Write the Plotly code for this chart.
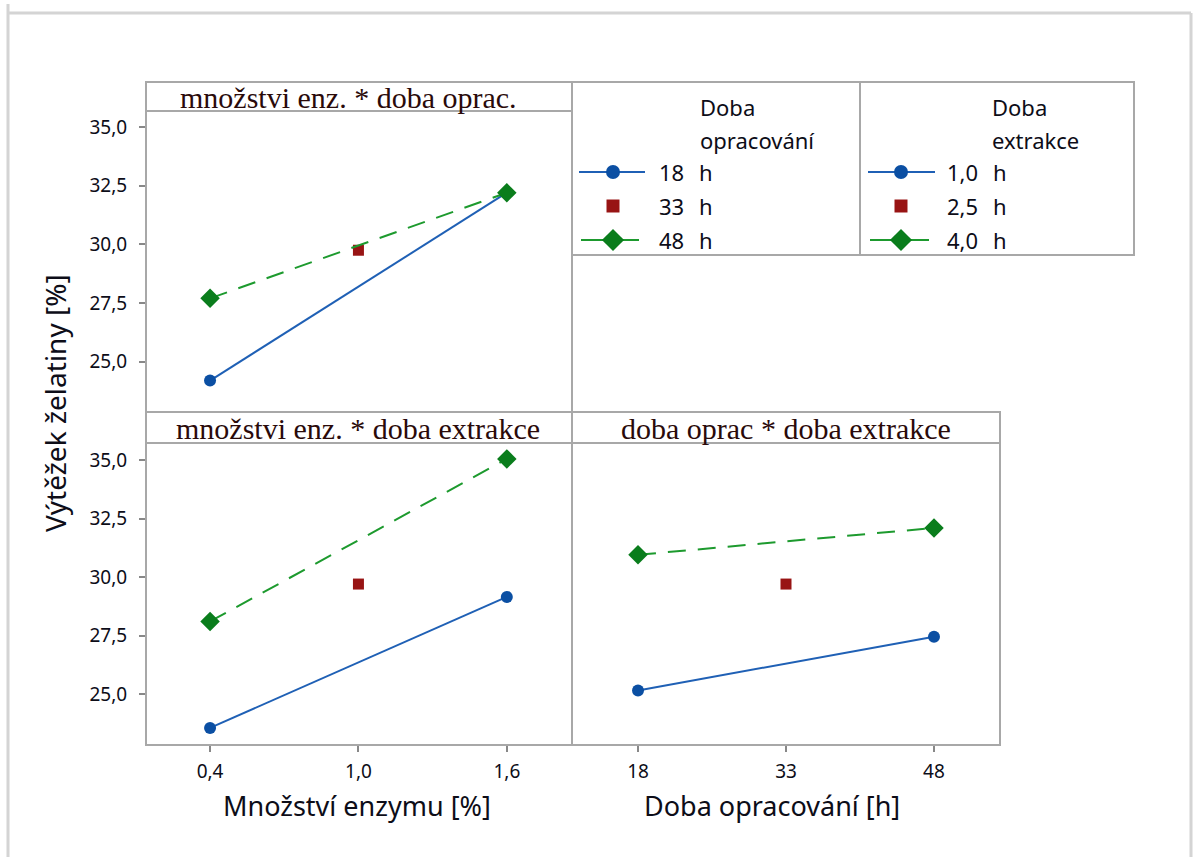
import plotly.graph_objects as go

W, H = 1195, 857

# ---------------- data ----------------
enzyme_levels = [0.4, 1.0, 1.6]          # Množství enzymu [%]
time_levels = [18, 33, 48]               # Doba opracování [h]
y_ticks = [25.0, 27.5, 30.0, 32.5, 35.0]

# panel 1: množství enz. * doba oprac.
p1_18h = [24.2, 32.2]     # at 0.4, 1.6
p1_33h = [29.75]          # at 1.0
p1_48h = [27.7, 32.2]     # at 0.4, 1.6
# panel 2: množství enz. * doba extrakce
p2_10h = [23.55, 29.15]
p2_25h = [29.7]
p2_40h = [28.1, 35.05]
# panel 3: doba oprac * doba extrakce
p3_10h = [25.15, 27.45]   # at 18, 48
p3_25h = [29.7]           # at 33
p3_40h = [30.95, 32.1]    # at 18, 48

legend1_title = ["Doba", "opracování"]
legend1_labels = ["18", "33", "48"]
legend2_title = ["Doba", "extrakce"]
legend2_labels = ["1,0", "2,5", "4,0"]
panel_titles = ["množstvi enz. * doba oprac.",
                "množstvi enz. * doba extrakce",
                "doba oprac * doba extrakce"]

# ---------------- style ----------------
BLUE_L = "#1f60b5"; BLUE_M = "#0b4fa3"
RED_M = "#981414"
GREEN_L = "#1d9a2e"; GREEN_M = "#0a7d1c"
BORDER = "#a8a8a8"
SANS = "Noto Sans"
SERIF = "Liberation Serif"
TXT = "#0d0d18"
DASH = "18px,12px"


def px(x):
    return x / W


def py(y):
    return 1 - y / H


fig = go.Figure()


def add_panel(xa, ya, xlo, xmid, xhi, s1, s2, s3):
    fig.add_trace(go.Scatter(x=[xlo, xhi], y=s1, xaxis=xa, yaxis=ya, mode="lines+markers",
                             line=dict(color=BLUE_L, width=2),
                             marker=dict(symbol="circle", size=12, color=BLUE_M),
                             showlegend=False, hoverinfo="x+y"))
    fig.add_trace(go.Scatter(x=[xmid], y=s2, xaxis=xa, yaxis=ya, mode="markers",
                             marker=dict(symbol="square", size=11, color=RED_M),
                             showlegend=False, hoverinfo="x+y"))
    fig.add_trace(go.Scatter(x=[xlo, xhi], y=s3, xaxis=xa, yaxis=ya, mode="lines+markers",
                             line=dict(color=GREEN_L, width=2, dash=DASH),
                             marker=dict(symbol="diamond", size=15, color=GREEN_M),
                             showlegend=False, hoverinfo="x+y"))


add_panel("x", "y", enzyme_levels[0], enzyme_levels[1], enzyme_levels[2], p1_18h, p1_33h, p1_48h)
add_panel("x2", "y2", enzyme_levels[0], enzyme_levels[1], enzyme_levels[2], p2_10h, p2_25h, p2_40h)
add_panel("x3", "y3", time_levels[0], time_levels[1], time_levels[2], p3_10h, p3_25h, p3_40h)


# legend samples on an overlay pixel axis
def legend_sample(x0, x1, xm, y, kind):
    if kind == 0:
        fig.add_trace(go.Scatter(x=[x0, x1], y=[y, y], xaxis="x4", yaxis="y4", mode="lines",
                                 line=dict(color=BLUE_L, width=2), showlegend=False, hoverinfo="skip"))
        fig.add_trace(go.Scatter(x=[xm], y=[y], xaxis="x4", yaxis="y4", mode="markers",
                                 marker=dict(symbol="circle", size=14, color=BLUE_M),
                                 showlegend=False, hoverinfo="skip"))
    elif kind == 1:
        fig.add_trace(go.Scatter(x=[xm], y=[y], xaxis="x4", yaxis="y4", mode="markers",
                                 marker=dict(symbol="square", size=13, color=RED_M),
                                 showlegend=False, hoverinfo="skip"))
    else:
        fig.add_trace(go.Scatter(x=[x0 + 2, x1 - 6], y=[y, y], xaxis="x4", yaxis="y4", mode="lines",
                                 line=dict(color=GREEN_L, width=2), showlegend=False, hoverinfo="skip"))
        fig.add_trace(go.Scatter(x=[xm], y=[y], xaxis="x4", yaxis="y4", mode="markers",
                                 marker=dict(symbol="diamond", size=17, color=GREEN_M),
                                 showlegend=False, hoverinfo="skip"))


item_y = [172, 206, 240]
for i in range(3):
    legend_sample(579, 645, 613, item_y[i], i)
    legend_sample(868, 935, 901, item_y[i], i)

LFONT = dict(family=SANS, size=22, color=TXT)
annotations = []


def ann(x, y, text, xanchor="left", font=LFONT, **kw):
    annotations.append(dict(x=px(x), y=py(y), xref="paper", yref="paper", text=text,
                            showarrow=False, xanchor=xanchor, yanchor="middle", font=font, **kw))


for i in range(3):
    ann(686, item_y[i], legend1_labels[i], "right")
    ann(697, item_y[i], "h")
    ann(980, item_y[i], legend2_labels[i], "right")
    ann(991, item_y[i], "h")

ann(698, 107, legend1_title[0])
ann(698, 140, legend1_title[1])
ann(990, 107, legend2_title[0])
ann(990, 140, legend2_title[1])

# panel header titles
for t, xc, yc in zip(panel_titles, [349, 358, 786], [97.5, 428.5, 428.5]):
    ann(xc, yc, t, "center", dict(family=SERIF, size=30, color="#2a0a0a"))

# axis titles
ann(357, 805, "Množství enzymu [%]", "center", dict(family=SANS, size=27, color=TXT))
ann(772, 805, "Doba opracování [h]", "center", dict(family=SANS, size=27, color=TXT))
ann(55, 403, "Výtěžek želatiny [%]", "center", dict(family=SANS, size=28, color=TXT), textangle=-90)

# shapes: frame, panel boxes, header separators
shapes = []


def pline(x0, y0, x1, y1, color=BORDER, width=2):
    shapes.append(dict(type="line", xref="paper", yref="paper", x0=px(x0), y0=py(y0), x1=px(x1), y1=py(y1),
                       line=dict(color=color, width=width)))


def prect(x0, y0, x1, y1):
    shapes.append(dict(type="rect", xref="paper", yref="paper", x0=px(x0), y0=py(y0), x1=px(x1), y1=py(y1),
                       line=dict(color=BORDER, width=2), fillcolor="rgba(0,0,0,0)"))


FRAME = "#d4d4d4"
pline(8, 4, 8, 857, FRAME, 3)
pline(8, 13, 1191, 13, FRAME, 3)
pline(1191, 13, 1191, 857, FRAME, 3)

prect(146, 82, 572, 412)
pline(146, 111, 572, 111)
prect(572, 82, 860, 255)
prect(860, 82, 1134, 255)
prect(146, 412, 572, 745)
pline(146, 443, 572, 443)
prect(572, 412, 1000, 745)
pline(572, 443, 1000, 443)

tickfont = dict(family=SANS, size=19, color=TXT)
yfmt = dict(tickvals=y_ticks, tickformat=".1f", ticks="outside", ticklen=6, tickcolor="#888",
            tickwidth=1.5, tickfont=tickfont, showgrid=False, zeroline=False, showline=False,
            ticklabelstandoff=8)

fig.update_layout(
    width=W, height=H, margin=dict(l=0, r=0, t=0, b=0),
    paper_bgcolor="white", plot_bgcolor="rgba(0,0,0,0)",
    separators=", ",
    showlegend=False,
    xaxis=dict(domain=[px(146), px(572)], range=[0.141, 1.8635], showticklabels=False, ticks="",
               showgrid=False, zeroline=False, showline=False, anchor="y"),
    yaxis=dict(domain=[py(412), py(111)], range=[22.86, 35.68], anchor="x", **yfmt),
    xaxis2=dict(domain=[px(146), px(572)], range=[0.141, 1.8635], anchor="y2",
                tickvals=enzyme_levels, tickformat=".1f", ticks="outside", ticklen=6, tickcolor="#888",
                tickwidth=1.5, tickfont=tickfont, showgrid=False, zeroline=False, showline=False,
                ticklabelstandoff=3),
    yaxis2=dict(domain=[py(745), py(443)], range=[22.82, 35.73], anchor="x2", **yfmt),
    xaxis3=dict(domain=[px(572), px(1000)], range=[11.31, 54.69], anchor="y3",
                tickvals=time_levels, ticks="outside", ticklen=6, tickcolor="#888",
                tickwidth=1.5, tickfont=tickfont, showgrid=False, zeroline=False, showline=False,
                ticklabelstandoff=3),
    yaxis3=dict(domain=[py(745), py(443)], range=[22.82, 35.73], anchor="x3", showticklabels=False,
                ticks="", showgrid=False, zeroline=False, showline=False),
    xaxis4=dict(domain=[0, 1], range=[0, W], visible=False, anchor="y4"),
    yaxis4=dict(domain=[0, 1], range=[H, 0], visible=False, anchor="x4"),
    annotations=annotations,
    shapes=shapes,
)

fig.write_html("out.html")
